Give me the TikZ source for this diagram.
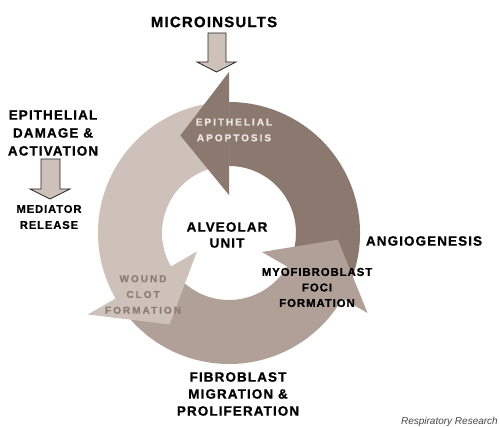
\documentclass[tikz,border=0pt]{standalone}
\usepackage{fontspec}
\setmainfont{Liberation Sans}
\newfontfamily\lblfont[LetterSpace=8, FakeBold=0.8]{Liberation Sans}
\newfontfamily\subfont[LetterSpace=20, FakeBold=0.5]{Liberation Sans}
\newfontfamily\credfont{Liberation Sans}
\definecolor{ringdark}{RGB}{139,121,112}
\definecolor{ringlight}{RGB}{206,193,186}
\definecolor{ringmid}{RGB}{177,160,152}
\definecolor{apotext}{RGB}{236,231,226}
\definecolor{woundtext}{RGB}{140,124,117}
\definecolor{credit}{RGB}{70,70,70}
\tikzset{
  big/.style={font=\lblfont\bfseries\fontsize{13.5}{18}\selectfont, align=center, inner sep=0pt, text=black},
  small/.style={font=\lblfont\bfseries\fontsize{11.4}{15.5}\selectfont, align=center, inner sep=0pt, text=black},
  inring/.style={font=\subfont\bfseries\fontsize{10}{15.8}\selectfont, align=center, inner sep=0pt},
  blockarrow/.style={fill=ringlight, draw=black!85, line width=0.8pt, line join=miter},
}
\begin{document}
\begin{tikzpicture}[x=1pt,y=1pt]
\useasboundingbox (0,0) rectangle (500,427);
\fill[white] (0,0) rectangle (500,427);
% ring bodies
\begin{scope}[shift={(229,194)}]
  \fill[ringdark] (-30:131) arc[start angle=-30, end angle=90, radius=131]
     -- (90:67) arc[start angle=90, end angle=-30, radius=67] -- cycle;
  \fill[ringlight] (90:131) arc[start angle=90, end angle=210, radius=131]
     -- (210:67) arc[start angle=210, end angle=90, radius=67] -- cycle;
  \fill[ringmid] (210:131) arc[start angle=210, end angle=330, radius=131]
     -- (330:67) arc[start angle=330, end angle=210, radius=67] -- cycle;
  % arrow heads
  \fill[ringdark] (90:38) -- (90:161) -- (116.5:109) -- cycle;
  \fill[ringlight] (210:37) -- (210:163) -- (237:109) -- cycle;
  \fill[ringmid] (330:38) -- (330:160) -- (356.5:109) -- cycle;
\end{scope}
% block arrows
\draw[blockarrow] (208,394) -- (226,394) -- (226,365) -- (236,365) -- (216.5,355)
   -- (197,365) -- (208,365) -- cycle;
\draw[blockarrow] (41,268) -- (60,268) -- (60,238) -- (70,238) -- (50,228)
   -- (30,238) -- (41,238) -- cycle;
% labels
\node[big, font=\lblfont\bfseries\fontsize{15}{18}\selectfont] (micro) at (214,405) {MICROINSULTS};
\node[big] (epidam) at (53,294) {EPITHELIAL\\DAMAGE \&\\ACTIVATION};
\node[small, font=\lblfont\bfseries\fontsize{11.2}{16}\selectfont] (mediator) at (49,210) {MEDIATOR\\RELEASE};
\node[inring, text=apotext] (apop) at (234,297) {EPITHELIAL\\APOPTOSIS};
\node[big, font=\lblfont\bfseries\fontsize{13.5}{16}\selectfont] (alveolar) at (227,192) {ALVEOLAR\\UNIT};
\node[big] (angio) at (424,186) {ANGIOGENESIS};
\node[small] (myo) at (317,139.5) {MYOFIBROBLAST\\FOCI\\FORMATION};
\node[inring, text=woundtext] (wound) at (143,132.5) {WOUND\\CLOT\\FORMATION};
\node[big, font=\lblfont\bfseries\fontsize{13.5}{17}\selectfont] (fibro) at (238,33) {FIBROBLAST\\MIGRATION \&\\PROLIFERATION};
\node[font=\credfont\itshape\fontsize{10}{12}\selectfont, text=credit, anchor=east, inner sep=0pt] (credit) at (498,5) {Respiratory Research};
\end{tikzpicture}
\end{document}
